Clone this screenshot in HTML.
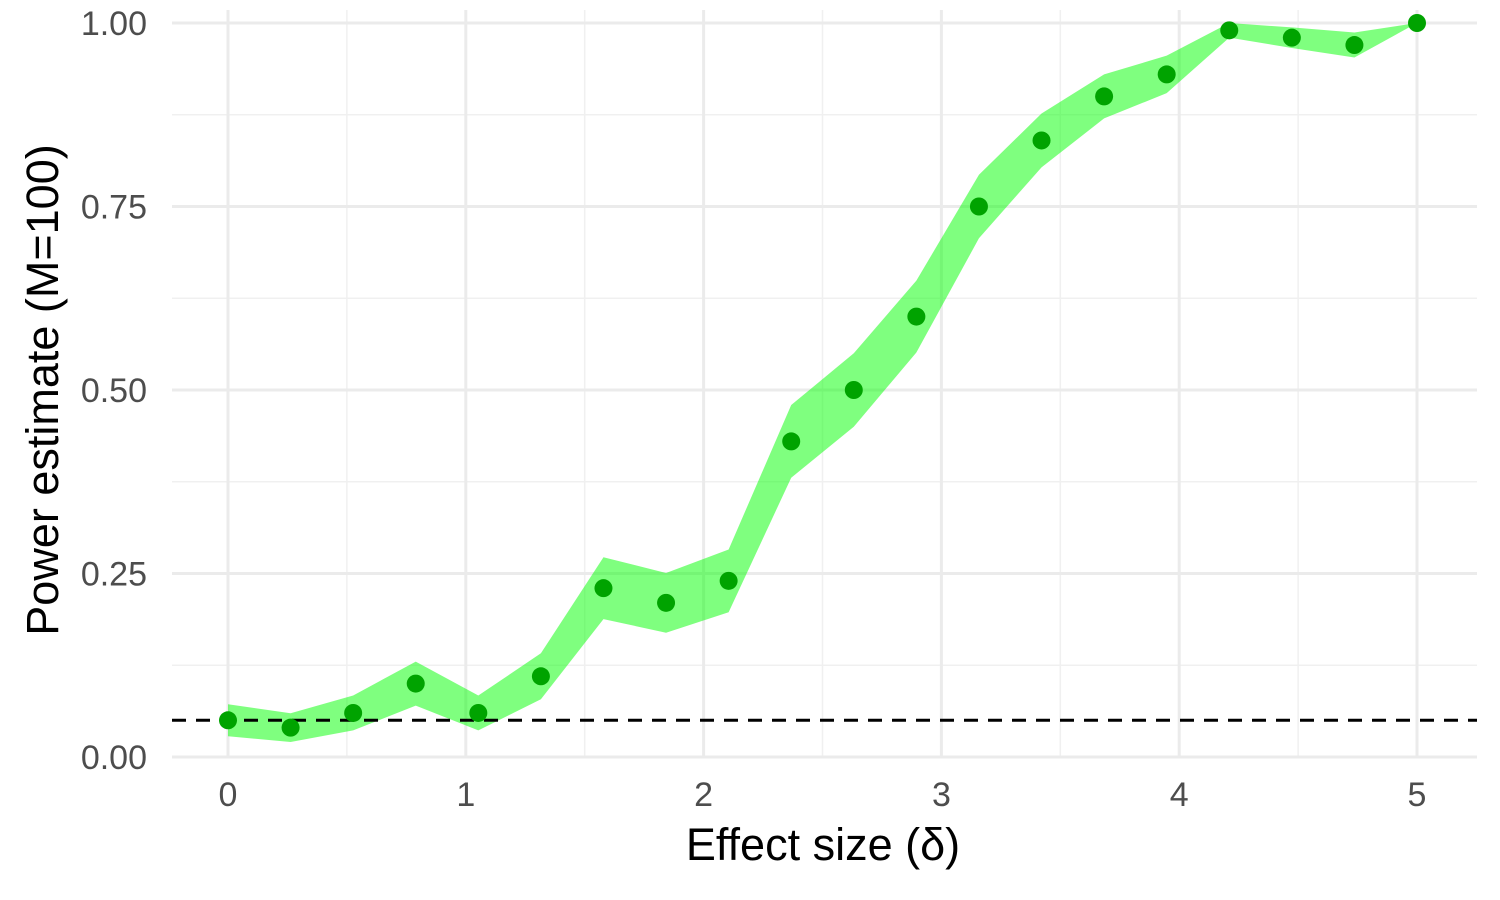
<!DOCTYPE html>
<html><head><meta charset="utf-8"><style>
html,body{margin:0;padding:0;background:#fff;}
svg{display:block;font-family:"Liberation Sans",sans-serif;}
</style></head><body>
<svg id="s" width="1500" height="900" xmlns="http://www.w3.org/2000/svg"></svg>
<script>
const s=document.getElementById('s');
const X=d=>228+d*237.8, Y=v=>757-v*734;
let h='';
for(let d=-0.5;d<=5.5;d+=1){const x=X(d);if(x>172&&x<1477)h+=`<line x1="${x}" y1="10" x2="${x}" y2="757" stroke="#f0f0f0" stroke-width="1.5"/>`;}
for(let v=0.125;v<1;v+=0.25){h+=`<line x1="172" y1="${Y(v)}" x2="1477" y2="${Y(v)}" stroke="#f0f0f0" stroke-width="1.5"/>`;}
for(let d=0;d<=5;d++){h+=`<line x1="${X(d)}" y1="10" x2="${X(d)}" y2="757" stroke="#ebebeb" stroke-width="3"/>`;
h+=`<text x="${X(d)}" y="806" font-size="34" fill="#4d4d4d" text-anchor="middle">${d}</text>`;}
for(let i=0;i<=4;i++){const v=i*0.25;h+=`<line x1="172" y1="${Y(v)}" x2="1477" y2="${Y(v)}" stroke="#ebebeb" stroke-width="3"/>`;
h+=`<text x="147" y="${Y(v)+12}" font-size="34" fill="#4d4d4d" text-anchor="end">${v.toFixed(2)}</text>`;}
const p=[0.05,0.04,0.06,0.10,0.06,0.11,0.23,0.21,0.24,0.43,0.50,0.60,0.75,0.84,0.90,0.93,0.99,0.98,0.97,1.00];
const up=[],lo=[];
p.forEach((v,i)=>{const d=i*5/19,se=Math.sqrt(v*(1-v)/100);up.push(`${X(d)},${Y(v+se)}`);lo.unshift(`${X(d)},${Y(v-se)}`);});
h+=`<polygon points="${up.concat(lo).join(' ')}" fill="#00ff00" fill-opacity="0.5"/>`;
h+=`<line x1="172" y1="${Y(0.05)}" x2="1477" y2="${Y(0.05)}" stroke="#000" stroke-width="3" stroke-dasharray="14,10"/>`;
p.forEach((v,i)=>{h+=`<circle cx="${X(i*5/19)}" cy="${Y(v)}" r="9" fill="#00a300"/>`;});
h+=`<text x="823" y="860" font-size="45" fill="#000" text-anchor="middle">Effect size (δ)</text>`;
h+=`<text transform="translate(58,390) rotate(-90)" font-size="45" fill="#000" text-anchor="middle">Power estimate (M=100)</text>`;
s.innerHTML=h;
</script>
</body></html>
